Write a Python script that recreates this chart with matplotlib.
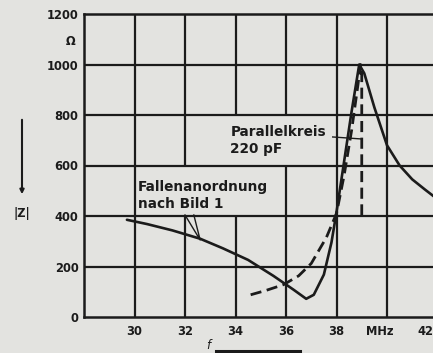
import matplotlib
matplotlib.use("Agg")
import matplotlib.pyplot as plt
from matplotlib.patches import Rectangle, FancyArrowPatch
from matplotlib.lines import Line2D

# Impedance |Z| of the trap arrangement (solid) and the 220 pF parallel circuit (dashed)
trap_f = [29.7, 30.5, 31.5, 32.6, 33.5, 34.5, 35.5, 36.3, 36.8, 37.1, 37.5, 37.8, 38.0,
          38.3, 38.6, 38.9, 39.1, 39.5, 40.0, 40.5, 41.0, 41.5, 41.85]
trap_z = [385, 368, 343, 310, 272, 226, 163, 108, 72, 88, 168, 295, 415,
          615, 815, 1000, 965, 830, 680, 600, 545, 505, 478]

par_f = [34.6, 35.2, 35.9, 36.5, 37.0, 37.6, 38.0, 38.3, 38.6, 38.85, 38.95, 39.0, 39.0]
par_z = [88, 105, 128, 163, 212, 315, 410, 560, 740, 920, 1000, 985, 390]

x_ticks = [30, 32, 34, 36, 38]
y_ticks = [0, 200, 400, 600, 800, 1000, 1200]

ink = "#1b1b1b"
paper = "#e3e3e0"
font = dict(family="DejaVu Sans", weight="bold")

fig = plt.figure(figsize=(4.33, 3.53), dpi=100, facecolor=paper)
ax = fig.add_axes([84 / 433, 1 - 317 / 353, 1 - 84 / 433, (317 - 14) / 353])
ax.set_facecolor(paper)
ax.set_xlim(28, 28 + (433 - 84) / 25.25)
ax.set_ylim(0, 1200)

# grid: vertical lines go under the label patches, horizontal lines over them
for xv in [30, 32, 34, 36, 38, 40]:
    ax.axvline(xv, color=ink, lw=1.6, zorder=1)
for yv in [200, 400, 600, 800, 1000]:
    ax.axhline(yv, color=ink, lw=1.6, zorder=2.5)

for side in ["left", "bottom", "top"]:
    ax.spines[side].set_color(ink)
    ax.spines[side].set_linewidth(1.8)
ax.spines["right"].set_visible(False)

ax.plot(trap_f, trap_z, color=ink, lw=1.9, zorder=3, solid_capstyle="round")
ax.plot(par_f, par_z, color=ink, lw=2.0, dashes=(4, 2), zorder=3)

ax.set_xticks(x_ticks)
ax.set_xticklabels([str(t) for t in x_ticks])
ax.set_yticks(y_ticks)
ax.set_yticklabels([str(t) for t in y_ticks])
ax.tick_params(length=0, colors=ink, labelsize=8.3)
ax.tick_params(axis="x", pad=6)
ax.tick_params(axis="y", pad=4)
for lab in ax.get_xticklabels() + ax.get_yticklabels():
    lab.set_fontfamily("DejaVu Sans")
    lab.set_fontweight("bold")

# extra bottom labels sit on the same baseline as the tick labels (pad 6 pt)
xlab_y = -(6 * 100 / 72) / (317 - 14)
ax.text(39.7, xlab_y, "MHz", transform=ax.get_xaxis_transform(), ha="center", va="top",
        fontsize=8.3, color=ink, **font)
ax.text(ax.get_xlim()[1], xlab_y, "42", transform=ax.get_xaxis_transform(), ha="right",
        va="top", fontsize=8.3, color=ink, **font)
ax.text(-0.025, 1090, "\u03a9", transform=ax.get_yaxis_transform(), ha="right",
        va="center", fontsize=8.3, color=ink, **font)

# annotations, each on a blank patch that hides the vertical grid behind it
ax.add_patch(Rectangle((33.9, 600), 3.9, 200, facecolor=paper, edgecolor="none", zorder=2))
ax.text(33.8, 700, "Parallelkreis\n220 pF", fontsize=9.8, color=ink, va="center",
        linespacing=1.3, zorder=4, **font)
ax.plot([37.85, 39.0], [713, 705], color=ink, lw=1.0, zorder=3)

ax.add_patch(Rectangle((30.1, 400), 5.75, 200, facecolor=paper, edgecolor="none", zorder=2))
ax.text(30.12, 480, "Fallenanordnung\nnach Bild 1", fontsize=9.8, color=ink, va="center",
        linespacing=1.3, zorder=4, **font)
ax.plot([32.0, 32.6, 32.35], [404, 305, 404], color=ink, lw=1.0, zorder=3)

# axis quantity labels with arrows
fig.text(22 / 433, 1 - 213 / 353, "|Z|", ha="center", va="center", fontsize=8.3,
         color=ink, **font)
fig.add_artist(FancyArrowPatch(
    (22 / 433, 1 - 117 / 353), (22 / 433, 1 - 197 / 353), transform=fig.transFigure,
    arrowstyle="-|>", mutation_scale=6, lw=1.5, color=ink))
fig.text(208 / 433, 1 - 352 / 353, "f", ha="center", va="bottom", fontsize=8.5,
         color=ink, style="italic", family="DejaVu Sans")
fig.add_artist(Line2D([216 / 433, 300 / 433], [2 / 353, 2 / 353],
                      transform=fig.transFigure, lw=2.2, color=ink))

fig.savefig("out.png", dpi=100, facecolor=paper)
